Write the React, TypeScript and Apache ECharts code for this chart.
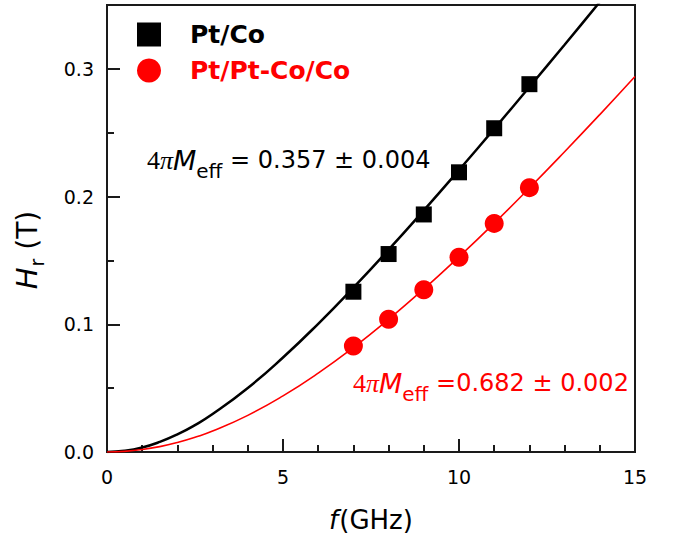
import React, { useEffect, useRef } from "react";
import * as echarts from "echarts";

// Measured resonance fields (T) vs frequency (GHz)
const freqGHz = [7, 8, 9, 10, 11, 12];
const hrPtCo = [0.1255, 0.155, 0.186, 0.219, 0.2535, 0.288];
const hrPtPtCoCo = [0.083, 0.104, 0.127, 0.1525, 0.179, 0.207];

// Fitted curves
const fitFreq = [0, 0.5, 1, 1.5, 2, 2.5, 3, 4, 5, 6, 7, 8, 9, 10, 11, 12, 13, 14, 15];
const fitPtCo = [0, 0.0009, 0.0035, 0.0079, 0.0138, 0.0211, 0.0297, 0.0501, 0.074, 0.1004, 0.1287, 0.1584, 0.1892, 0.2208, 0.253, 0.2858, 0.3189, 0.3524, 0.3862];
const fitPtPtCoCo = [0, 0.0005, 0.0019, 0.0042, 0.0074, 0.0115, 0.0164, 0.0287, 0.0439, 0.0617, 0.0818, 0.1039, 0.1276, 0.1528, 0.1792, 0.2067, 0.2351, 0.2642, 0.294];

const seriesNames = ["Pt/Co", "Pt/Pt-Co/Co"];
const annotationPtCo = " = 0.357 ± 0.004";
const annotationPtPtCoCo = " =0.682 ± 0.002";

const AXIS = "#1a1a1a";
const RED = "#ff0000";

const annRich = {
  a: { fontFamily: "Liberation Serif", fontSize: 26, lineHeight: 30 },
  p: { fontFamily: "Liberation Serif", fontStyle: "italic", fontSize: 26, lineHeight: 30 },
  m: { fontFamily: "DejaVu Sans", fontStyle: "italic", fontSize: 27, lineHeight: 30 },
  s: { fontFamily: "DejaVu Sans", fontSize: 20, lineHeight: 2, padding: [22, 0, 0, 0] },
  t: { fontFamily: "DejaVu Sans", fontSize: 24, lineHeight: 30 },
};

export default function App() {
  const ref = useRef<HTMLDivElement>(null);
  useEffect(() => {
    if (!ref.current) return;
    const chart = echarts.init(ref.current, undefined, { renderer: "svg" });
    const tickLine = { color: AXIS, width: 2 };
    const option = {
      animation: false,
      backgroundColor: "#ffffff",
      grid: {
        left: 107,
        right: 38,
        top: 5,
        bottom: 87,
        show: true,
        borderColor: AXIS,
        borderWidth: 2,
        backgroundColor: "transparent",
      },
      legend: {
        data: [
          { name: seriesNames[0], textStyle: { color: "#000" } },
          { name: seriesNames[1], textStyle: { color: RED } },
        ],
        orient: "vertical",
        left: 132,
        top: 17,
        itemWidth: 24,
        itemHeight: 24,
        itemGap: 11,
        selectedMode: false,
        formatter: (n: string) => "{g|}" + n,
        textStyle: {
          fontFamily: "DejaVu Sans",
          fontWeight: "bold",
          fontSize: 25,
          rich: { g: { width: 24 } },
        },
      },
      xAxis: {
        type: "value",
        min: 0,
        max: 15,
        interval: 5,
        axisLine: { show: true, onZero: false, lineStyle: tickLine },
        axisTick: { show: true, inside: true, length: 13, lineStyle: tickLine },
        minorTick: { show: true, splitNumber: 5, length: 7, lineStyle: tickLine },
        splitLine: { show: false },
        minorSplitLine: { show: false },
        axisLabel: { fontFamily: "DejaVu Sans", fontSize: 19, color: "#000", margin: 15 },
        name: "{i|f}{n|(GHz)}",
        nameLocation: "middle",
        nameGap: 52,
        nameTextStyle: {
          rich: {
            i: { fontFamily: "DejaVu Sans", fontStyle: "italic", fontSize: 26, lineHeight: 32, color: "#000", padding: [0, 1, 0, 0] },
            n: { fontFamily: "DejaVu Sans", fontSize: 26, lineHeight: 32, color: "#000" },
          },
        },
      },
      yAxis: [
        {
          type: "value",
          min: 0,
          max: 0.35,
          interval: 0.05,
          axisLine: { show: true, onZero: false, lineStyle: tickLine },
          axisTick: { show: true, inside: true, length: 7, lineStyle: tickLine },
          splitLine: { show: false },
          axisLabel: {
            fontFamily: "DejaVu Sans",
            fontSize: 19,
            color: "#000",
            margin: 13,
            formatter: (v: number) => {
              const k = Math.round(v * 100);
              return k % 10 === 0 && v < 0.34 ? v.toFixed(1) : "";
            },
          },
        },
        {
          type: "value",
          position: "left",
          min: 0,
          max: 0.35,
          interval: 0.1,
          axisLine: { show: false },
          axisTick: { show: true, inside: true, length: 13, lineStyle: tickLine },
          splitLine: { show: false },
          axisLabel: { show: false },
        },
      ],
      series: [
        {
          name: "Pt/Co fit",
          type: "line",
          data: fitFreq.map((f, i) => [f, fitPtCo[i]]),
          symbol: "none",
          showSymbol: false,
          smooth: true,
          clip: true,
          silent: true,
          lineStyle: { color: "#000", width: 2.5 },
          itemStyle: { color: "#000" },
          z: 2,
        },
        {
          name: "Pt/Pt-Co/Co fit",
          type: "line",
          data: fitFreq.map((f, i) => [f, fitPtPtCoCo[i]]),
          symbol: "none",
          showSymbol: false,
          smooth: true,
          clip: true,
          silent: true,
          lineStyle: { color: RED, width: 1.6 },
          itemStyle: { color: RED },
          z: 2,
        },
        {
          name: seriesNames[0],
          type: "scatter",
          data: freqGHz.map((f, i) => [f, hrPtCo[i]]),
          symbol: "rect",
          symbolSize: 16,
          itemStyle: { color: "#000", opacity: 1 },
          z: 3,
        },
        {
          name: seriesNames[1],
          type: "scatter",
          data: freqGHz.map((f, i) => [f, hrPtPtCoCo[i]]),
          symbol: "circle",
          symbolSize: 19,
          itemStyle: { color: RED, opacity: 1 },
          z: 3,
        },
      ],
      graphic: [
        {
          type: "text",
          x: 27,
          y: 250,
          rotation: Math.PI / 2,
          style: {
            text: "{h|H}{r|r}{t| (T)}",
            fill: "#000",
            align: "center",
            verticalAlign: "middle",
            textAlign: "center",
            textVerticalAlign: "middle",
            rich: {
              h: { fontFamily: "DejaVu Sans", fontStyle: "italic", fontSize: 29, lineHeight: 32 },
              r: { fontFamily: "DejaVu Sans", fontSize: 19, lineHeight: 2, padding: [20, 0, 0, 1] },
              t: { fontFamily: "DejaVu Sans", fontSize: 28, lineHeight: 32 },
            },
          },
        },
        {
          type: "text",
          x: 147,
          y: 160,
          style: {
            text: "{a|4}{p|π}{m|M}{s|eff}{t|" + annotationPtCo + "}",
            fill: "#000",
            align: "left",
            verticalAlign: "middle",
            textAlign: "left",
            textVerticalAlign: "middle",
            rich: annRich,
          },
        },
        {
          type: "text",
          x: 353,
          y: 383,
          style: {
            text: "{a|4}{p|π}{m|M}{s|eff}{t|" + annotationPtPtCoCo + "}",
            fill: RED,
            align: "left",
            verticalAlign: "middle",
            textAlign: "left",
            textVerticalAlign: "middle",
            rich: annRich,
          },
        },
      ],
    };
    chart.setOption(option as any);
    return () => chart.dispose();
  }, []);
  return (
    <div
      ref={ref}
      style={{ position: "fixed", left: 0, top: 0, width: 673, height: 539, background: "#fff" }}
    />
  );
}
